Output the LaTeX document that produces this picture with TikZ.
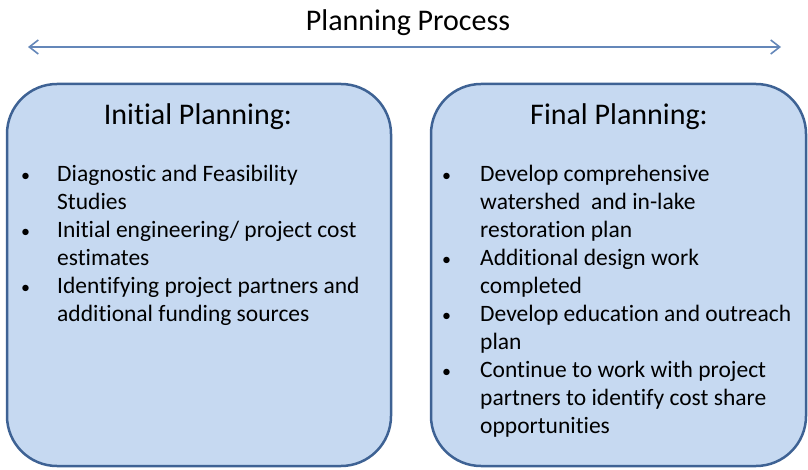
\documentclass[tikz,border=0pt]{standalone}
\usepackage{fontspec}
\setmainfont{Carlito}[Ligatures=NoCommon]
\usepackage{tikz}
\usetikzlibrary{arrows.meta}

\definecolor{boxfill}{RGB}{198,217,241}
\definecolor{boxline}{RGB}{62,98,148}
\definecolor{arrowblue}{RGB}{100,135,185}
\newcommand{\planbul}{{\fontsize{18}{18}\selectfont\textbullet}}

\begin{document}
\begin{tikzpicture}[x=1pt, y=-1pt,
    planbox/.style={draw=boxline, fill=boxfill, line width=2.5pt,
        rounded corners=50pt, inner sep=0pt},
    boxhead/.style={font=\fontsize{30}{34}\selectfont, inner sep=0pt},
    boxlist/.style={font=\fontsize{23.5}{28}\selectfont, inner sep=0pt, anchor=base west},
    procarrow/.style={arrowblue, line width=1.6pt,
        {Straight Barb[length=9pt,width=14pt]}-{Straight Barb[length=9pt,width=14pt]}}]
\useasboundingbox (0,0) rectangle (808,470);
% title and arrow
\node[font=\fontsize{30}{34}\selectfont, inner sep=0pt] (title) at (408,23) {Planning Process};
\coordinate (procL) at (28,47);
\coordinate (procR) at (781,47);
\draw[procarrow] (procL) -- (procR);
% boxes
\draw[planbox] (7,84) rectangle (391,466);
\draw[planbox] (431,84) rectangle (806,466);
\node[boxhead] (inithead) at (198,117) {Initial Planning:};
\node[boxhead] (finalhead) at (619,117) {Final Planning:};
% bullet lists
\node[boxlist] (initlist) at (21,182) {%
    \begin{tabular}[t]{@{}p{36pt}@{}l@{}}
    \planbul & Diagnostic and Feasibility\\
     & Studies\\
    \planbul & Initial engineering/ project cost\\
     & estimates\\
    \planbul & Identifying project partners and\\
     & additional funding sources
    \end{tabular}};
\node[boxlist] (finallist) at (442,182) {%
    \begin{tabular}[t]{@{}p{38pt}@{}l@{}}
    \planbul & Develop comprehensive\\
     & watershed\ \ and in-lake\\
     & restoration plan\\
    \planbul & Additional design work\\
     & completed\\
    \planbul & Develop education and outreach\\
     & plan\\
    \planbul & Continue to work with project\\
     & partners to identify cost share\\
     & opportunities
    \end{tabular}};
\end{tikzpicture}
\end{document}
